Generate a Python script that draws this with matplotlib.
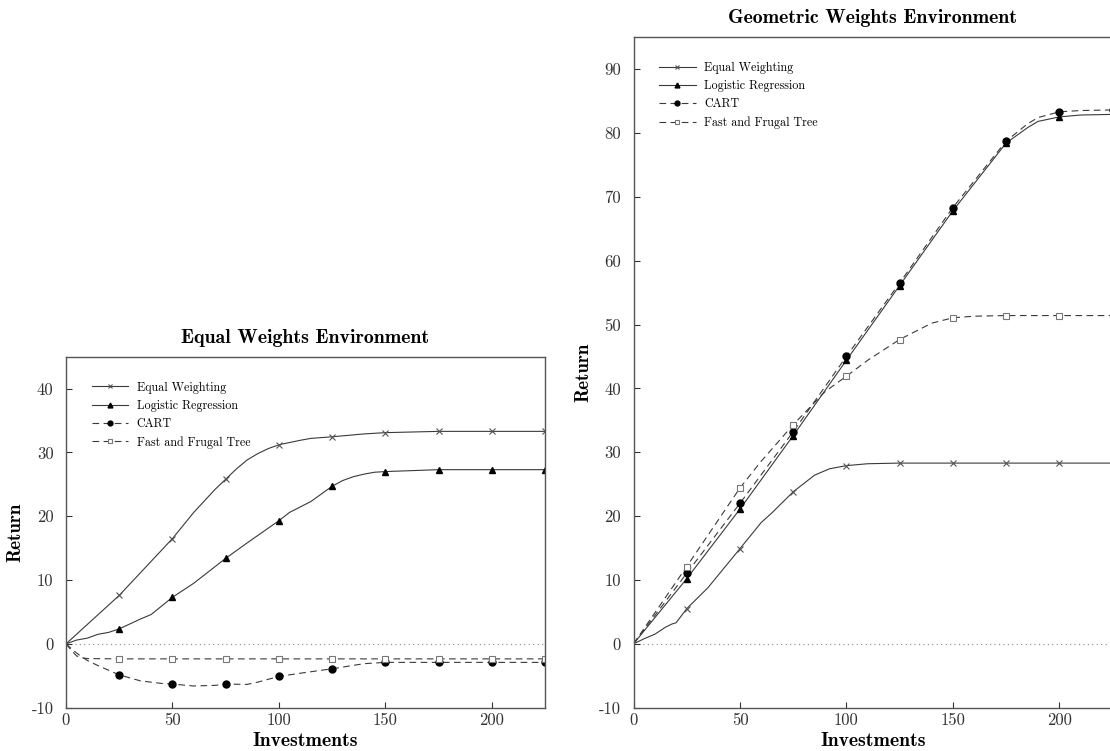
import numpy as np
import matplotlib.pyplot as plt

plt.rcParams['font.family'] = 'cmr10'
plt.rcParams['axes.unicode_minus'] = False
plt.rcParams['axes.formatter.use_mathtext'] = False

labels = ['Equal Weighting', 'Logistic Regression', 'CART', 'Fast and Frugal Tree']
marker_x = [25, 50, 75, 100, 125, 150, 175, 200, 225]

# Equal weights environment (left panel)
eq_ew_x = [0, 25, 50, 60, 65, 70, 75, 80, 85, 90, 95, 100, 110, 115, 125, 140, 150, 175, 200, 225]
eq_ew_y = [0, 7.6, 16.5, 20.6, 22.4, 24.2, 25.8, 27.4, 28.8, 29.8, 30.6, 31.2, 31.9, 32.2, 32.45, 32.9, 33.1, 33.3, 33.3, 33.3]
eq_lr_x = [0, 5, 10, 15, 20, 25, 35, 40, 50, 60, 65, 75, 85, 100, 105, 115, 125, 130, 135, 140, 145, 150, 175, 200, 225]
eq_lr_y = [0, 0.6, 0.9, 1.5, 1.8, 2.35, 3.9, 4.6, 7.3, 9.5, 10.8, 13.4, 15.8, 19.3, 20.6, 22.3, 24.7, 25.6, 26.2, 26.6, 26.9, 27.0, 27.3, 27.3, 27.3]
eq_cart_x = [0, 3, 6, 10, 15, 25, 35, 45, 50, 60, 70, 75, 85, 90, 100, 110, 125, 140, 150, 175, 200, 225]
eq_cart_y = [0, -0.9, -1.7, -2.6, -3.4, -4.86, -5.8, -6.2, -6.3, -6.6, -6.5, -6.3, -6.35, -6.0, -5.1, -4.6, -3.9, -3.1, -2.9, -2.9, -2.9, -2.9]
eq_fft_x = [0, 3, 5, 8, 10, 25, 50, 75, 100, 125, 150, 175, 200, 225]
eq_fft_y = [0, -1.2, -1.9, -2.2, -2.3, -2.35, -2.35, -2.35, -2.35, -2.35, -2.35, -2.35, -2.35, -2.35]

# Geometric weights environment (right panel)
geo_ew_x = [0, 5, 10, 15, 18, 20, 25, 35, 50, 60, 65, 75, 85, 92, 100, 110, 125, 150, 175, 200, 225, 240]
geo_ew_y = [0, 0.8, 1.5, 2.6, 3.1, 3.3, 5.5, 8.8, 14.9, 19.0, 20.5, 23.8, 26.4, 27.4, 27.9, 28.2, 28.3, 28.3, 28.3, 28.3, 28.3, 28.3]
geo_lr_x = [0, 25, 50, 75, 100, 125, 150, 175, 185, 190, 200, 210, 225, 240]
geo_lr_y = [0, 10.2, 21.1, 32.6, 44.4, 56.1, 67.8, 78.4, 80.8, 81.8, 82.5, 82.8, 82.9, 82.9]
geo_cart_x = [0, 25, 50, 75, 100, 125, 150, 175, 185, 190, 200, 210, 225, 240]
geo_cart_y = [0, 11.05, 22.0, 33.2, 45.0, 56.5, 68.3, 78.7, 81.4, 82.4, 83.3, 83.5, 83.6, 83.6]
geo_fft_x = [0, 25, 50, 60, 75, 90, 100, 110, 125, 140, 150, 160, 175, 200, 225, 240]
geo_fft_y = [0, 12.1, 24.4, 28.6, 34.3, 39.5, 41.9, 44.4, 47.65, 50.2, 51.05, 51.3, 51.4, 51.4, 51.4, 51.4]

line_col = '#3a3a3a'
styles = [
    dict(linestyle='-', marker='x', markersize=4.5, markeredgecolor='#555555', markeredgewidth=0.8),
    dict(linestyle='-', marker='^', markersize=5, markerfacecolor='black', markeredgecolor='black'),
    dict(linestyle=(0, (6, 4)), marker='o', markersize=5, markerfacecolor='black', markeredgecolor='black'),
    dict(linestyle=(0, (6, 4)), marker='s', markersize=5, markerfacecolor='white', markeredgecolor='#777777', markeredgewidth=0.8),
]


def draw(ax, series, ymin, ymax, yticks, title, h_px):
    ax.axhline(0, color='#888888', linestyle=(0, (1, 3)), linewidth=0.8, zorder=1)
    for (xs, ys), lab, st in zip(series, labels, styles):
        idx = [xs.index(m) for m in marker_x if m in xs]
        ax.plot(xs, ys, color=line_col, linewidth=0.8, markevery=idx, label=lab, **st)
    ax.set_xlim(0, 225)
    ax.set_ylim(ymin, ymax)
    ax.set_xticks([0, 50, 100, 150, 200])
    ax.set_yticks(yticks)
    ax.tick_params(direction='in', length=4, width=0.8, labelsize=12, colors='#333333',
                   top=False, right=False)
    ax.tick_params(axis='y', pad=9)
    for s in ['top', 'right', 'left', 'bottom']:
        ax.spines[s].set_color('#555555')
        ax.spines[s].set_linewidth(1.0)
    ax.set_title(title, family='cmb10', fontsize=14.3, pad=10)
    ax.set_xlabel('Investments', family='cmb10', fontsize=14.2, labelpad=3)
    ax.set_ylabel('Return', family='cmb10', fontsize=13.5, labelpad=5)
    ax.legend(loc='upper left', frameon=False, fontsize=8.7, handlelength=3.0,
              handletextpad=0.7, labelspacing=0.5, borderaxespad=0.0, markerscale=0.7,
              bbox_to_anchor=(21 / 479, 1 - 20 / h_px))


W, H = 1110, 751
fig = plt.figure(figsize=(W / 100, H / 100), dpi=100)

h1 = 707.7 - 356.7
ax1 = fig.add_axes([66 / W, 1 - 707.7 / H, 479 / W, h1 / H])
draw(ax1, [(eq_ew_x, eq_ew_y), (eq_lr_x, eq_lr_y), (eq_cart_x, eq_cart_y), (eq_fft_x, eq_fft_y)],
     -10, 45, [-10, 0, 10, 20, 30, 40], 'Equal Weights Environment', h1)

h2 = 707.7 - 37.1
ax2 = fig.add_axes([633.5 / W, 1 - 707.7 / H, 479 / W, h2 / H])
draw(ax2, [(geo_ew_x, geo_ew_y), (geo_lr_x, geo_lr_y), (geo_cart_x, geo_cart_y), (geo_fft_x, geo_fft_y)],
     -10, 95, [-10, 0, 10, 20, 30, 40, 50, 60, 70, 80, 90], 'Geometric Weights Environment', h2)

fig.savefig('out.png', dpi=100)
